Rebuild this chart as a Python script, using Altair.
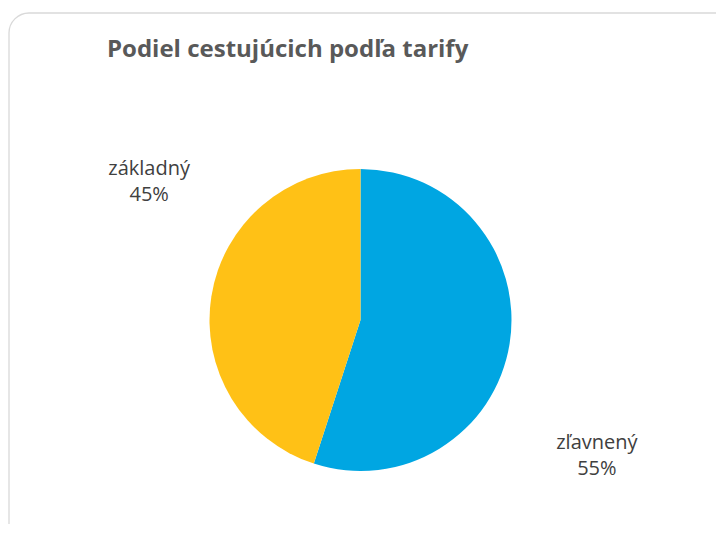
import altair as alt
import pandas as pd

# ---- data ----
categories = ["zľavnený", "základný"]
values = [55, 45]
slice_order = [0, 1]
colors = ["#00A6E2", "#FFC116"]
title_text = "Podiel cestujúcich podľa tarify"

df = pd.DataFrame({"cat": categories, "val": values, "ord": slice_order})
df["label"] = df["cat"] + "\n" + df["val"].astype(str) + "%"
df["mid"] = df["val"].cumsum() - df["val"] / 2

W, H = 708, 516
CX, CY = 352.5, 312
FONT = "Open Sans"

one = pd.DataFrame({"k": [0]})

border = alt.Chart(one).mark_rect(
    fill="white", stroke="#D9D9D9", strokeWidth=1.3, cornerRadius=20
).encode(
    x=alt.value(1), x2=alt.value(W + 60), y=alt.value(5), y2=alt.value(H + 60)
)

base = alt.Chart(df)

pie = base.mark_arc(outerRadius=151).encode(
    theta=alt.Theta("val:Q", stack=True),
    color=alt.Color("cat:N", scale=alt.Scale(domain=categories, range=colors), legend=None),
    order=alt.Order("ord:Q"),
    x=alt.value(CX),
    y=alt.value(CY),
)


def label_layer(cat, radius, offset):
    return base.transform_filter(alt.datum.cat == cat).mark_text(
        radius=radius, thetaOffset=offset, fontSize=20, lineBreak="\n", lineHeight=26,
        font=FONT, color="#404040", baseline="middle", align="center", dy=-14
    ).encode(
        theta=alt.Theta("mid:Q", scale=alt.Scale(domain=[0, sum(values)]), stack=None),
        text="label:N",
        x=alt.value(CX),
        y=alt.value(CY),
    )


lab_blue = label_layer(categories[0], 273, 0.367)
lab_yellow = label_layer(categories[1], 252, 0.419)

title = alt.Chart(one).mark_text(
    text=title_text, font=FONT, fontSize=24, fontWeight="bold", color="#595959",
    align="left", baseline="alphabetic"
).encode(x=alt.value(99), y=alt.value(49))

chart = alt.layer(border, pie, lab_blue, lab_yellow, title).properties(
    width=W, height=H, padding=0, autosize="none"
).resolve_scale(theta="independent").configure_view(stroke=None)

chart.save("out.html", embed_options={"renderer": "svg", "actions": False})
